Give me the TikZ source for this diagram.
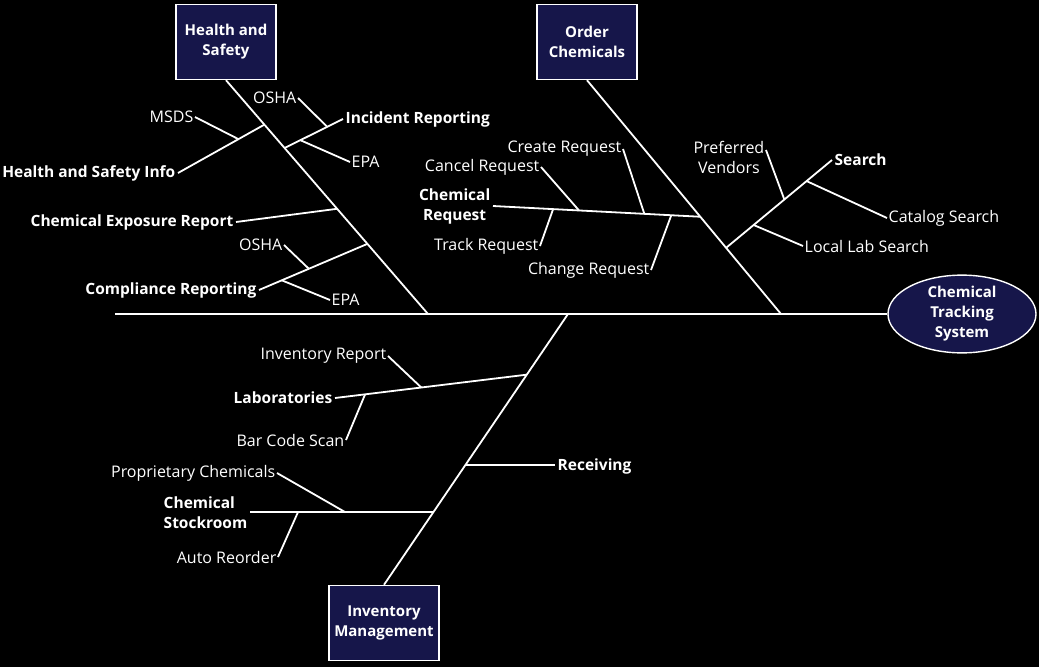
\documentclass[tikz,border=0pt]{standalone}
\usepackage{fontspec}
\setmainfont{Open Sans}
\usetikzlibrary{shapes,calc}
\definecolor{navy}{RGB}{22,22,74}

\begin{document}
\begin{tikzpicture}[x=1pt,y=-1pt,
  bone/.style={white, line width=1.8pt},
  cat/.style={draw=white, line width=1.4pt, fill=navy, text=white, minimum width=100pt, minimum height=75pt, align=center, font=\fontsize{15}{20}\selectfont\bfseries},
  cause/.style={text=white, inner sep=2.5pt, font=\fontsize{15.5}{20}\selectfont\bfseries},
  leaf/.style={text=white, inner sep=1.5pt, font=\fontsize{16}{20}\selectfont}]
\path[use as bounding box, fill=black] (0,0) rectangle (1039,667);

\node[cat] (hs) at (226,42) {Health and\\Safety};
\node[cat] (oc) at (587,42) {Order\\Chemicals};
\node[cat, minimum width=110pt] (im) at (384,623) {Inventory\\Management};
\node[cat, ellipse, minimum width=148pt, minimum height=75pt, inner sep=0pt] (cts) at (962,314) {Chemical\\Tracking\\System};

\coordinate (tail) at (115,314);
\coordinate (hsEnd) at (428,314);
\coordinate (ocEnd) at (781,314);
\coordinate (imEnd) at (568,314);
\draw[bone] (tail) -- (cts.west);
\draw[bone] (hs.south) -- (hsEnd);
\draw[bone] (oc.south) -- (ocEnd);
\draw[bone] (im.north) -- (imEnd);

\coordinate (hsA) at ($(hs.south)!.19!(hsEnd)$);
\coordinate (hsB) at ($(hs.south)!.29!(hsEnd)$);
\coordinate (hsC) at ($(hs.south)!.55!(hsEnd)$);
\coordinate (hsD) at ($(hs.south)!.70!(hsEnd)$);

\node[cause, anchor=east] (hsinfo) at (178,173) {Health and Safety Info};
\draw[bone] (hsinfo.east) -- (hsA);
\node[leaf, anchor=east] (msds) at (195,117) {MSDS};
\draw[bone] (msds.east) -- ($(hsinfo.east)!.70!(hsA)$);

\node[cause, anchor=west] (incident) at (343,119) {Incident Reporting};
\draw[bone] (hsB) -- (incident.west);
\node[leaf, anchor=east] (osha1) at (298,98) {OSHA};
\draw[bone] (osha1.east) -- ($(hsB)!.73!(incident.west)$);
\node[leaf, anchor=west] (epa1) at (350,162) {EPA};
\draw[bone] (epa1.west) -- ($(hsB)!.27!(incident.west)$);

\node[cause, anchor=east] (exposure) at (236,222) {Chemical Exposure Report};
\draw[bone] (exposure.east) -- (hsC);

\node[cause, anchor=east] (compliance) at (259,290) {Compliance Reporting};
\draw[bone] (compliance.east) -- (hsD);
\node[leaf, anchor=east] (osha2) at (284,245) {OSHA};
\draw[bone] (osha2.east) -- ($(compliance.east)!.46!(hsD)$);
\node[leaf, anchor=west] (epa2) at (330,300) {EPA};
\draw[bone] (epa2.west) -- ($(compliance.east)!.21!(hsD)$);

\coordinate (ocA) at ($(oc.south)!.584!(ocEnd)$);
\coordinate (ocB) at ($(oc.south)!.717!(ocEnd)$);

\node[cause, anchor=east, align=center] (chemreq) at (493,206) {Chemical\\Request};
\draw[bone] (chemreq.east) -- (ocA);
\node[leaf, anchor=east] (cancel) at (541,167) {Cancel Request};
\draw[bone] (cancel.east) -- ($(chemreq.east)!.415!(ocA)$);
\node[leaf, anchor=east] (create) at (623,149) {Create Request};
\draw[bone] (create.east) -- ($(chemreq.east)!.73!(ocA)$);
\node[leaf, anchor=east] (track) at (540,246) {Track Request};
\draw[bone] (track.east) -- ($(chemreq.east)!.29!(ocA)$);
\node[leaf, anchor=east] (change) at (651,270) {Change Request};
\draw[bone] (change.east) -- ($(chemreq.east)!.86!(ocA)$);

\node[cause, anchor=west] (search) at (832,160) {Search};
\draw[bone] (ocB) -- (search.west);
\node[leaf, anchor=north east, align=center] (vendors) at (766,140) {Preferred\\Vendors};
\draw[bone] ([yshift=-10pt]vendors.north east) -- ($(ocB)!.55!(search.west)$);
\node[leaf, anchor=west] (catalog) at (887,218) {Catalog Search};
\draw[bone] ($(ocB)!.76!(search.west)$) -- (catalog.west);
\node[leaf, anchor=west] (locallab) at (803,246) {Local Lab Search};
\draw[bone] ($(ocB)!.26!(search.west)$) -- (locallab.west);

\coordinate (imA) at ($(imEnd)!.224!(im.north)$);
\coordinate (imB) at ($(imEnd)!.559!(im.north)$);
\coordinate (imC) at ($(imEnd)!.73!(im.north)$);

\node[cause, anchor=east] (labs) at (335,398) {Laboratories};
\draw[bone] (labs.east) -- (imA);
\node[leaf, anchor=east] (invreport) at (388,356) {Inventory Report};
\draw[bone] (invreport.east) -- ($(labs.east)!.45!(imA)$);
\node[leaf, anchor=east] (barcode) at (346,440) {Bar Code Scan};
\draw[bone] (barcode.east) -- ($(labs.east)!.157!(imA)$);

\node[cause, anchor=west] (receiving) at (555,466) {Receiving};
\draw[bone] (imB) -- (imB -| receiving.west);

\node[cause, anchor=east, align=left] (stockroom) at (250,513) {Chemical\\Stockroom};
\draw[bone] (imC) -- (imC -| stockroom.east);
\node[leaf, anchor=east] (proprietary) at (277,473) {Proprietary Chemicals};
\draw[bone] (proprietary.east) -- ($(stockroom.east)!.52!(imC)$);
\node[leaf, anchor=east] (reorder) at (278,557) {Auto Reorder};
\draw[bone] (reorder.east) -- ($(stockroom.east)!.26!(imC)$);
\end{tikzpicture}
\end{document}
